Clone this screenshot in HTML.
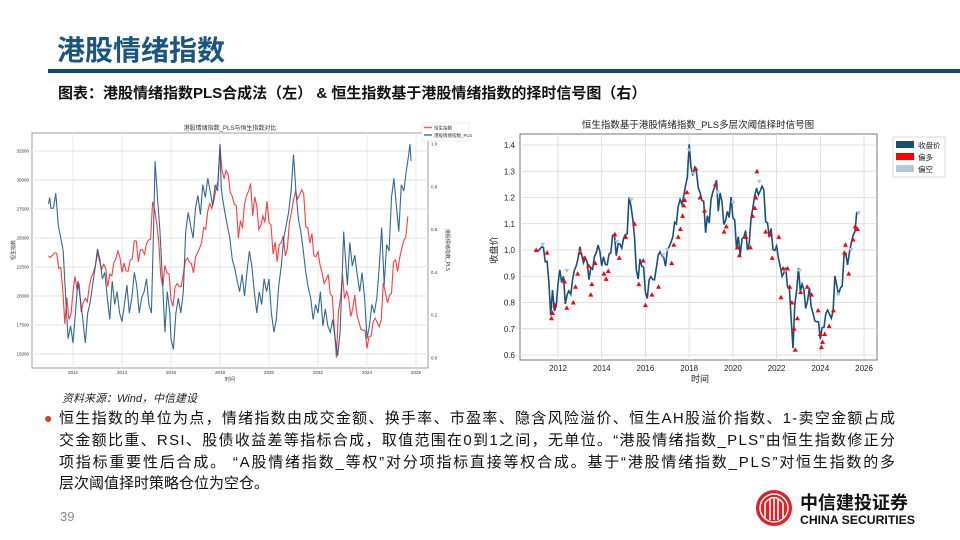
<!DOCTYPE html>
<html><head><meta charset="utf-8">
<style>
html,body{margin:0;padding:0;background:#fff;}
#page{position:relative;width:960px;height:540px;overflow:hidden;background:#fff;font-family:"Liberation Sans","Noto Sans CJK SC",sans-serif;}
svg text{font-family:"Liberation Sans","Noto Sans CJK SC",sans-serif;}
</style></head>
<body>
<div id="page">
<svg id="svg" width="960" height="540" viewBox="0 0 960 540" xmlns="http://www.w3.org/2000/svg">
  <text x="57" y="60" font-size="28" font-weight="bold" fill="#1a5582">港股情绪指数</text>
  <rect x="48" y="69" width="912" height="4" fill="#0e4a78"/>
  <text x="58" y="98" font-size="15" font-weight="bold" fill="#111" font-family="'Noto Serif CJK SC','Liberation Serif',serif">图表：港股情绪指数PLS合成法（左） &amp; 恒生指数基于港股情绪指数的择时信号图（右）</text>
  <g id="left"></g>
  <g id="right"></g>
  <text x="62" y="402" font-size="11" font-style="italic" fill="#222">资料来源：Wind，中信建设</text>
  <g font-size="15" fill="#111">
    <text x="44" y="423" fill="#d9391c" font-size="14">●</text>
    <text x="59" y="423" textLength="836" lengthAdjust="spacing">恒生指数的单位为点，情绪指数由成交金额、换手率、市盈率、隐含风险溢价、恒生AH股溢价指数、1-卖空金额占成</text>
    <text x="59" y="445" textLength="836" lengthAdjust="spacing">交金额比重、RSI、股债收益差等指标合成，取值范围在0到1之间，无单位。“港股情绪指数_PLS”由恒生指数修正分</text>
    <text x="59" y="467" textLength="836" lengthAdjust="spacing">项指标重要性后合成。 “A股情绪指数_等权”对分项指标直接等权合成。基于“港股情绪指数_PLS”对恒生指数的多</text>
    <text x="59" y="488">层次阈值择时策略仓位为空仓。</text>
  </g>
  <text x="60" y="521" font-size="13" fill="#888">39</text>
  <g>
    <circle cx="774" cy="508" r="18" fill="#e31e24"/>
    <circle cx="774" cy="508" r="14" fill="none" stroke="#fff" stroke-width="1.5"/>
    <path d="M765 518 V503 M770 520 V499 M774 520 V497 M778 520 V499 M783 518 V503 M765 503 Q774 492 783 503" stroke="#fff" stroke-width="1.6" fill="none"/>
    <text x="800" y="509" font-size="18" font-weight="bold" fill="#111">中信建投证券</text>
    <text x="800" y="524" font-size="12" font-weight="bold" fill="#111" textLength="115" lengthAdjust="spacingAndGlyphs">CHINA SECURITIES</text>
  </g>
</svg>
</div>
<script>
// ---- data ----
const hsiStartYear = 2011;
const hsiMonthly = [
23447,23338,23528,23720,23684,22398,22440,20535,17592,19864,17989,18434,
20390,21680,20556,21095,18630,19441,19796,19482,20840,21642,22030,22657,
23730,23020,22300,22737,22392,20803,21883,21731,22860,23206,23881,23306,
22035,22837,22151,22134,23082,23191,24757,24742,22933,23998,23987,23605,
24507,24823,24901,28133,27424,26250,24636,21670,20846,22640,21996,21914,
19683,19112,20777,21067,20815,20794,21891,22977,23297,22935,22790,22001,
23361,23741,24112,24615,25925,25765,27324,27970,27554,28246,29177,29919,
32887,30845,30093,30808,30469,28955,28583,27889,27789,24980,26507,25846,
27942,28633,29051,29699,26901,28543,27778,25725,26092,26907,26346,28190,
26313,26130,23603,24644,22961,24427,24595,25177,23459,24107,26341,27231,
28284,28980,28378,28725,29152,28828,25961,25879,24576,25377,23475,23398,
23802,22713,21997,21089,21415,21860,20157,19954,17223,14687,18597,19781,
21842,19786,20400,19895,18234,18916,20079,18382,17810,17112,17043,17047,
15485,16511,16541,17763,18080,17719,17345,17989,21134,20317,19424,20060,
20225,22941,23120,22119,23290,24072,24773,25077,26856];
const plsDates = [2011.0,2011.05,2011.1,2011.2,2011.3,2011.4,2011.5,2011.6,2011.7,2011.8,2011.9,2012.0,2012.1,2012.2,2012.3,2012.4,2012.5,2012.6,2012.7,2012.8,2012.9,2013.0,2013.1,2013.2,2013.3,2013.4,2013.5,2013.6,2013.7,2013.8,2013.9,2014.0,2014.1,2014.2,2014.3,2014.4,2014.5,2014.6,2014.7,2014.8,2014.9,2015.0,2015.1,2015.2,2015.3,2015.35,2015.45,2015.55,2015.65,2015.75,2015.85,2015.95,2016.0,2016.1,2016.2,2016.3,2016.4,2016.5,2016.6,2016.7,2016.8,2016.9,2017.0,2017.1,2017.2,2017.3,2017.4,2017.5,2017.6,2017.7,2017.8,2017.9,2018.0,2018.05,2018.1,2018.2,2018.3,2018.4,2018.5,2018.6,2018.7,2018.8,2018.9,2019.0,2019.1,2019.2,2019.3,2019.4,2019.5,2019.6,2019.7,2019.8,2019.9,2020.0,2020.1,2020.2,2020.3,2020.4,2020.5,2020.6,2020.7,2020.8,2020.9,2021.0,2021.05,2021.1,2021.2,2021.3,2021.4,2021.5,2021.6,2021.7,2021.8,2021.9,2022.0,2022.1,2022.2,2022.3,2022.4,2022.5,2022.6,2022.7,2022.8,2022.9,2023.0,2023.05,2023.1,2023.2,2023.3,2023.4,2023.5,2023.6,2023.7,2023.8,2023.9,2024.0,2024.1,2024.2,2024.3,2024.4,2024.5,2024.6,2024.7,2024.8,2024.9,2025.0,2025.1,2025.2,2025.3,2025.4,2025.5,2025.6,2025.7,2025.75,2025.8];
const plsValues = [0.72,0.75,0.70,0.70,0.77,0.62,0.56,0.50,0.28,0.09,0.15,0.07,0.21,0.36,0.28,0.18,0.07,0.21,0.26,0.34,0.42,0.51,0.46,0.37,0.40,0.28,0.18,0.36,0.25,0.31,0.21,0.17,0.25,0.34,0.21,0.28,0.40,0.34,0.21,0.28,0.31,0.37,0.25,0.21,0.65,0.92,0.75,0.59,0.37,0.12,0.31,0.21,0.09,0.04,0.21,0.28,0.21,0.31,0.59,0.68,0.62,0.56,0.70,0.76,0.67,0.81,0.75,0.84,0.78,0.71,0.81,0.78,1.00,0.80,0.75,0.68,0.62,0.56,0.46,0.42,0.36,0.31,0.39,0.29,0.40,0.50,0.43,0.31,0.21,0.31,0.25,0.37,0.31,0.37,0.21,0.12,0.18,0.34,0.43,0.56,0.62,0.68,0.78,0.95,0.87,0.78,0.65,0.59,0.50,0.40,0.33,0.28,0.18,0.25,0.21,0.31,0.15,0.23,0.15,0.12,0.18,0.09,0.01,0.12,0.43,0.59,0.50,0.34,0.54,0.43,0.48,0.39,0.31,0.40,0.28,0.09,0.15,0.25,0.21,0.28,0.43,0.61,0.34,0.53,0.50,0.75,0.84,0.71,0.59,0.81,0.78,0.87,0.95,1.00,0.92];
const leftYTicks = [15000,17500,20000,22500,25000,27500,30000,32500];
const rightAxisTicks = [0.0,0.2,0.4,0.6,0.8,1.0];
const yearTicks = [2012,2014,2016,2018,2020,2022,2024,2026];
const rYTicks = [0.6,0.7,0.8,0.9,1.0,1.1,1.2,1.3,1.4];
const bullDates = [2011.0,2011.5,2011.7,2011.75,2011.85,2012.3,2012.4,2012.7,2012.8,2012.9,2013.0,2013.2,2013.4,2013.5,2013.55,2013.7,2014.1,2014.2,2014.3,2014.6,2014.8,2015.1,2015.5,2015.7,2015.9,2016.0,2016.3,2016.6,2017.2,2017.3,2017.5,2017.6,2017.7,2017.75,2017.8,2017.9,2018.3,2018.5,2018.7,2019.2,2019.6,2019.7,2020.2,2020.3,2020.6,2020.8,2020.9,2021.0,2021.05,2021.1,2021.5,2021.7,2021.8,2022.1,2022.2,2022.3,2022.5,2022.6,2022.7,2022.8,2022.85,2022.95,2023.1,2023.4,2023.6,2023.9,2024.0,2024.05,2024.1,2024.2,2024.4,2024.6,2025.1,2025.15,2025.3,2025.5,2025.6,2025.7];
const bullValues = [1.00,0.99,0.74,0.76,0.79,0.88,0.78,0.80,0.86,0.91,0.99,0.97,0.94,0.83,0.87,0.95,0.91,0.89,0.92,1.06,0.97,1.05,1.10,0.87,0.96,0.79,0.83,0.86,0.95,1.02,1.05,1.08,1.13,1.17,1.19,1.22,1.31,1.20,1.15,1.25,1.07,1.09,1.01,0.98,1.05,1.01,1.13,1.16,1.20,1.30,1.07,1.06,0.97,1.05,0.82,0.93,0.93,0.86,0.80,0.70,0.62,0.74,0.84,0.86,0.83,0.77,0.68,0.63,0.65,0.68,0.71,0.77,0.99,1.02,0.91,1.04,1.09,1.08];
const bearDates = [2011.3,2012.4,2013.0,2014.7,2015.35,2016.8,2017.0,2018.0,2018.2,2019.3,2020.0,2021.2,2022.4,2023.05,2024.8,2025.4,2025.75];
const bearValues = [1.02,0.92,0.99,1.03,1.19,0.98,1.00,1.38,1.29,1.22,1.18,1.26,0.92,0.92,0.83,1.00,1.14];

const svg = document.getElementById('svg');
const NS = 'http://www.w3.org/2000/svg';
function mk(parent, tag, attrs, txt){ const e=document.createElementNS(NS,tag); for(const k in attrs) e.setAttribute(k,attrs[k]); if(txt!==undefined) e.textContent=txt; parent.appendChild(e); return e; }
const hsiDates = hsiMonthly.map((v,i)=>hsiStartYear + i/12);

// ---- left chart ----
const L = document.getElementById('left');
const xL = t => 73 + (t-2012)*24.5;
const yHSI = v => 151 + (32500-v)*29/2500;
const yPLS = p => 358 - p*214;
mk(L,'rect',{x:32,y:133,width:396,height:235,fill:'#fff',stroke:'#888','stroke-width':0.8});
mk(L,'text',{x:230,y:130,'font-size':6,'text-anchor':'middle',fill:'#333'},'港股情绪指数_PLS与恒生指数对比');
yearTicks.forEach(yr=>{
  const g=mk(L,'line',{x1:xL(yr),x2:xL(yr),y1:133,y2:368,stroke:'#e3e3e3','stroke-width':0.8});
  
  
  const t=mk(L,'text',{x:xL(yr),y:374,'font-size':4.5,'text-anchor':'middle',fill:'#333'},String(yr));
  
  
});
leftYTicks.forEach(v=>{
  const g=mk(L,'line',{x1:32,x2:428,y1:yHSI(v),y2:yHSI(v),stroke:'#e3e3e3','stroke-width':1});
  
  
  const t=mk(L,'text',{x:29,y:yHSI(v)+1.5,'font-size':4.5,'text-anchor':'end',fill:'#333'},String(v));
  
  
});
rightAxisTicks.forEach(v=>{
  const t=mk(L,'text',{x:431,y:yPLS(v)+1.5,'font-size':4.5,fill:'#333'},v.toFixed(1));
  
  
});
mk(L,'text',{x:230,y:381,'font-size':5,'text-anchor':'middle',fill:'#333'},'时间');
mk(L,'text',{x:15,y:250,'font-size':5,'text-anchor':'middle',fill:'#333',transform:'rotate(-90 15 250)'},'恒生指数');
mk(L,'text',{x:446,y:250,'font-size':5,'text-anchor':'middle',fill:'#333',transform:'rotate(90 446 250)'},'港股情绪指数_PLS');
const hsiLine = mk(L,'polyline',{points:hsiMonthly.map((v,i)=>xL(hsiDates[i]).toFixed(1)+','+yHSI(v).toFixed(1)).join(' '),fill:'none',stroke:'#ff1a1a','stroke-width':1.1,'stroke-opacity':0.85});


const plsLine = mk(L,'polyline',{points:plsValues.map((v,i)=>xL(plsDates[i]).toFixed(1)+','+yPLS(v).toFixed(1)).join(' '),fill:'none',stroke:'#1d5a88','stroke-width':1.1,'stroke-opacity':0.9});


const leg=mk(L,'g',{});


mk(leg,'rect',{x:422,y:123,width:47,height:18,fill:'#fff',stroke:'#ddd','stroke-width':0.5});
mk(leg,'line',{x1:424,x2:432,y1:127.5,y2:127.5,stroke:'#ff6060','stroke-width':1.5});
mk(leg,'text',{x:434,y:129.5,'font-size':4.5,fill:'#333'},'恒生指数');
mk(leg,'line',{x1:424,x2:432,y1:135,y2:135,stroke:'#3a7aa8','stroke-width':1.5});
mk(leg,'text',{x:434,y:137,'font-size':4.5,fill:'#333'},'港股情绪指数_PLS');

// ---- right chart ----
const R = document.getElementById('right');
const xR = t => 558 + (t-2012)*21.86;
const yR = v => 355 - (v-0.6)*262.5;
const base = hsiMonthly[0];
mk(R,'rect',{x:520,y:134,width:357,height:226,fill:'#fff',stroke:'#777','stroke-width':1});
mk(R,'text',{x:698,y:128,'font-size':9.5,'text-anchor':'middle',fill:'#222'},'恒生指数基于港股情绪指数_PLS多层次阈值择时信号图');
yearTicks.forEach(yr=>{
  const g=mk(R,'line',{x1:xR(yr),x2:xR(yr),y1:134,y2:360,stroke:'#d8d8d8','stroke-width':0.8});
  
  
  const t=mk(R,'text',{x:xR(yr),y:371,'font-size':8,'text-anchor':'middle',fill:'#222'},String(yr));
  
  
});
rYTicks.forEach(v=>{
  const g=mk(R,'line',{x1:520,x2:877,y1:yR(v),y2:yR(v),stroke:'#d8d8d8','stroke-width':0.8});
  
  
  const t=mk(R,'text',{x:515,y:yR(v)+3,'font-size':8,'text-anchor':'end',fill:'#222'},v.toFixed(1));
  
  
});
mk(R,'text',{x:700,y:382,'font-size':9,'text-anchor':'middle',fill:'#222'},'时间');
mk(R,'text',{x:497,y:250,'font-size':9,'text-anchor':'middle',fill:'#222',transform:'rotate(-90 497 250)'},'收盘价');
const closeLine = mk(R,'polyline',{points:hsiMonthly.map((v,i)=>xR(hsiDates[i]).toFixed(1)+','+yR(v/base).toFixed(1)).join(' '),fill:'none',stroke:'#1a4f7a','stroke-width':1.6});


bearDates.forEach((d,i)=>{
  const x=xR(d), y=yR(bearValues[i]);
  const m=mk(R,'path',{d:`M${x-2.5},${y-2} L${x+2.5},${y-2} L${x},${y+2} Z`,fill:'#aac4d8'});
  
  
});
bullDates.forEach((d,i)=>{
  const x=xR(d), y=yR(bullValues[i]);
  const m=mk(R,'path',{d:`M${x-2.5},${y+2} L${x+2.5},${y+2} L${x},${y-2.5} Z`,fill:'#ff0000'});
  
  
});
const rl=mk(R,'g',{});


mk(rl,'rect',{x:893,y:137,width:52,height:40,fill:'#fff',stroke:'#ccc','stroke-width':0.7});
mk(rl,'rect',{x:896,y:141,width:18,height:7,fill:'#1a4f7a'});
mk(rl,'text',{x:918,y:148,'font-size':7.5,fill:'#222'},'收盘价');
mk(rl,'rect',{x:896,y:153,width:18,height:7,fill:'#ff0000'});
mk(rl,'text',{x:918,y:160,'font-size':7.5,fill:'#222'},'偏多');
mk(rl,'rect',{x:896,y:165,width:18,height:7,fill:'#b3c9da'});
mk(rl,'text',{x:918,y:172,'font-size':7.5,fill:'#222'},'偏空');
</script>
</body></html>
